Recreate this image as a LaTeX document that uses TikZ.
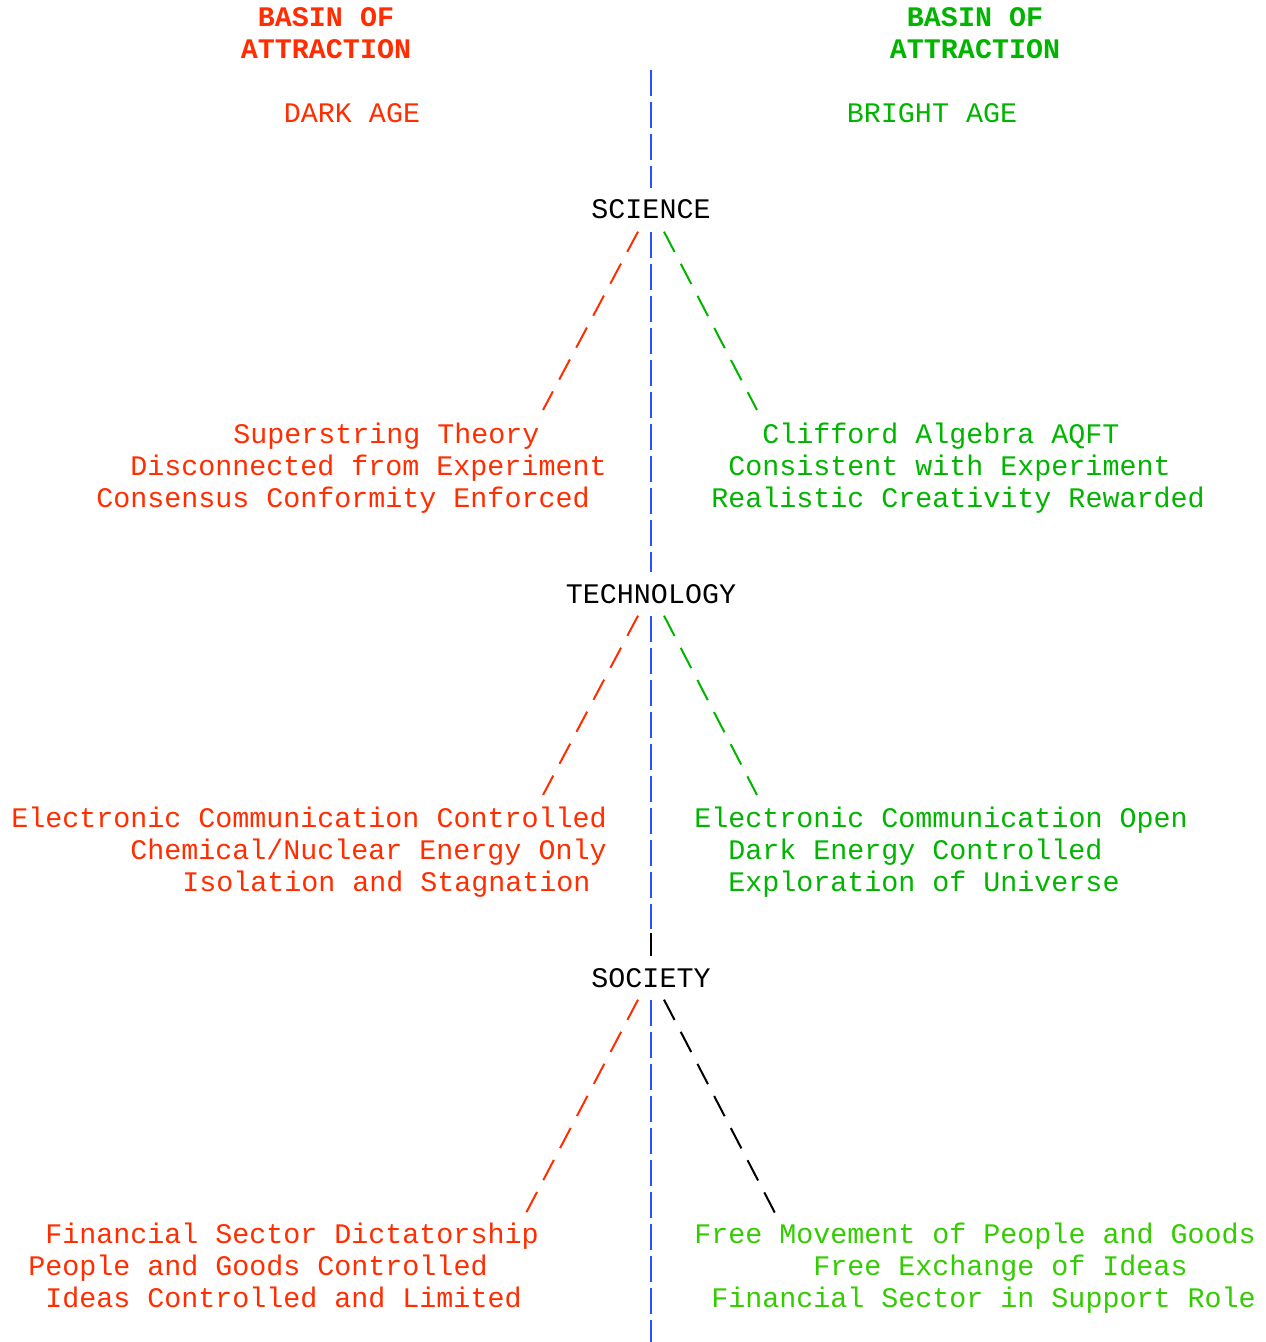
\documentclass[tikz,border=0pt]{standalone}
\usepackage{fontspec}
\setmonofont{Liberation Mono}
\usetikzlibrary{calc}
\definecolor{darkred}{RGB}{255,45,0}
\definecolor{brightgreen}{RGB}{0,180,0}
\definecolor{lightgreen}{RGB}{51,204,0}
\definecolor{axisblue}{RGB}{40,80,255}

\begin{document}
\begin{tikzpicture}[x=0.5pt, y=-0.5pt,
  every node/.style={font=\ttfamily\fontsize{14.17}{16}\selectfont, inner sep=0pt},
  hub/.style={anchor=base, inner sep=6pt, text=black},
  darkhead/.style={anchor=base, text=darkred, font=\ttfamily\bfseries\fontsize{14.17}{16}\selectfont},
  brighthead/.style={anchor=base, text=brightgreen, font=\ttfamily\bfseries\fontsize{14.17}{16}\selectfont},
  darkline/.style={anchor=base west, text=darkred},
  brightline/.style={anchor=base west, text=brightgreen},
  freeline/.style={anchor=base west, text=lightgreen},
  axis/.style={draw=axisblue, line width=1pt, dash pattern=on 13pt off 3pt},
  slant/.style={line width=1pt, dash pattern=on 11.4pt off 6.7pt}
]
\useasboundingbox (0,0) rectangle (1265,1342);

% headings
\node[darkhead] (dbasin) at (326,27) {BASIN OF};
\node[darkhead] (dattr) at (326,59) {ATTRACTION};
\node[brighthead] (bbasin) at (975,27) {BASIN OF};
\node[brighthead] (battr) at (975,59) {ATTRACTION};
\node[anchor=base, text=darkred] (dark) at (352,123) {DARK AGE};
\node[anchor=base, text=brightgreen] (bright) at (932,123) {BRIGHT AGE};

% the three levels
\node[hub] (sci) at (651,219) {SCIENCE};
\node[hub] (tech) at (651,603) {TECHNOLOGY};
\node[hub] (soc) at (651,987) {SOCIETY};

% science
\node[darkline] (sci-d1) at (233,443) {Superstring Theory};
\node[darkline] (sci-d2) at (130,475) {Disconnected from Experiment};
\node[darkline] (sci-d3) at (96,507) {Consensus Conformity Enforced};
\node[brightline] (sci-b1) at (762,443) {Clifford Algebra AQFT};
\node[brightline] (sci-b2) at (728,475) {Consistent with Experiment};
\node[brightline] (sci-b3) at (711,507) {Realistic Creativity Rewarded};

% technology
\node[darkline] (tech-d1) at (11,827) {Electronic Communication Controlled};
\node[darkline] (tech-d2) at (130,859) {Chemical/Nuclear Energy Only};
\node[darkline] (tech-d3) at (182,891) {Isolation and Stagnation};
\node[brightline] (tech-b1) at (694,827) {Electronic Communication Open};
\node[brightline] (tech-b2) at (728,859) {Dark Energy Controlled};
\node[brightline] (tech-b3) at (728,891) {Exploration of Universe};

% society
\node[darkline] (soc-d1) at (45,1243) {Financial Sector Dictatorship};
\node[darkline] (soc-d2) at (28,1275) {People and Goods Controlled};
\node[darkline] (soc-d3) at (45,1307) {Ideas Controlled and Limited};
\node[freeline] (soc-b1) at (694,1243) {Free Movement of People and Goods};
\node[freeline] (soc-b2) at (813,1275) {Free Exchange of Ideas};
\node[freeline] (soc-b3) at (711,1307) {Financial Sector in Support Role};

% ends of the connectors
\coordinate (axtop) at (651,70);
\coordinate (axgap) at (651,929);
\coordinate (axblk) at (651,933);
\coordinate (axbot) at (651,1342);
\coordinate (sci-dend) at (543,410);
\coordinate (sci-bend) at (757,410);
\coordinate (tech-dend) at (543,795);
\coordinate (tech-bend) at (757,795);
\coordinate (soc-dend) at (526,1213);
\coordinate (soc-bend) at (775,1213);

% centre axis
\draw[axis] (axtop) -- (sci.north);
\draw[axis] (sci.south) -- (tech.north);
\draw[axis] (tech.south) -- (axgap);
\draw[line width=1pt, black] (axblk) -- (soc.north);
\draw[axis] (soc.south) -- (axbot);

% branches
\draw[slant, darkred] ([xshift=-6.5pt]sci.south) -- (sci-dend);
\draw[slant, brightgreen] ([xshift=6.5pt]sci.south) -- (sci-bend);
\draw[slant, darkred] ([xshift=-6.5pt]tech.south) -- (tech-dend);
\draw[slant, brightgreen] ([xshift=6.5pt]tech.south) -- (tech-bend);
\draw[slant, darkred] ([xshift=-6.5pt]soc.south) -- (soc-dend);
\draw[slant, black] ([xshift=6.5pt]soc.south) -- (soc-bend);
\end{tikzpicture}
\end{document}
